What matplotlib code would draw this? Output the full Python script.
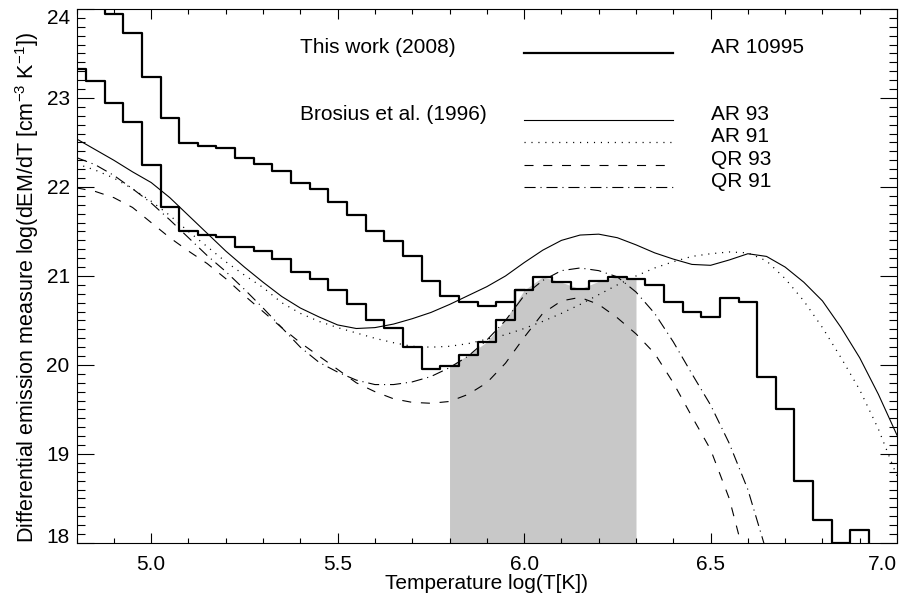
import numpy as np
import matplotlib
matplotlib.use("Agg")
import matplotlib.pyplot as plt
from matplotlib.ticker import MultipleLocator, FormatStrFormatter

plt.rcParams['font.family'] = ['Liberation Sans', 'DejaVu Sans']
plt.rcParams['mathtext.default'] = 'regular'
plt.rcParams['lines.scale_dashes'] = False

# temperature grid, log(T) in 0.05 steps
logT = np.round(np.arange(4.80, 7.001, 0.05), 2)

# This work (2008), AR 10995 -- two DEM histograms
dem_upper = [24.5, 24.3, 23.945, 23.73, 23.235, 22.78, 22.49, 22.46, 22.44, 22.33,
             22.26, 22.18, 22.04, 21.98, 21.83, 21.68, 21.51, 21.39, 21.22, 20.94,
             20.78, 20.71, 20.66, 20.71, 20.84]
dem_lower = [23.33, 23.19, 22.94, 22.73, 22.25, 21.78, 21.51, 21.46, 21.44, 21.33,
             21.28, 21.19, 21.04, 20.97, 20.84, 20.69, 20.51, 20.42, 20.20, 19.95,
             19.99, 20.11, 20.26, 20.51, 20.84, 20.99, 20.93, 20.855, 20.94, 20.99,
             20.97, 20.90, 20.705, 20.59, 20.54, 20.75, 20.705, 19.86, 19.50, 18.70,
             18.26, 18.0, 18.15, 17.5]

# Brosius et al. (1996)
ar93 = [22.54, 22.42, 22.30, 22.17, 22.05, 21.88, 21.68, 21.48, 21.28, 21.10,
        20.93, 20.77, 20.64, 20.54, 20.45, 20.41, 20.42, 20.46, 20.52, 20.59,
        20.68, 20.78, 20.88, 21.00, 21.15, 21.29, 21.40, 21.46, 21.47, 21.43,
        21.35, 21.26, 21.19, 21.13, 21.12, 21.18, 21.25, 21.22, 21.10, 20.93,
        20.72, 20.42, 20.08, 19.67, 19.21]
ar91 = [22.26, 22.19, 22.10, 21.98, 21.84, 21.68, 21.50, 21.33, 21.16, 21.01,
        20.87, 20.70, 20.58, 20.49, 20.42, 20.36, 20.30, 20.25, 20.21, 20.20,
        20.21, 20.24, 20.29, 20.34, 20.41, 20.49, 20.58, 20.68, 20.79, 20.90,
        21.00, 21.09, 21.16, 21.22, 21.25, 21.27, 21.26, 21.17, 20.97, 20.72,
        20.42, 20.08, 19.72, 19.28, 18.75]
qr93 = [21.99, 21.95, 21.88, 21.77, 21.60, 21.43, 21.28, 21.14, 20.97, 20.78,
        20.60, 20.42, 20.25, 20.10, 19.95, 19.80, 19.70, 19.62, 19.58, 19.57,
        19.59, 19.67, 19.80, 20.02, 20.31, 20.58, 20.72, 20.76, 20.68, 20.53,
        20.35, 20.13, 19.80, 19.42, 19.05, 18.50, 17.70]
qr91 = [22.33, 22.25, 22.13, 21.98, 21.82, 21.63, 21.43, 21.23, 21.05, 20.85,
        20.64, 20.42, 20.20, 20.03, 19.92, 19.83, 19.78, 19.78, 19.81, 19.87,
        19.97, 20.10, 20.28, 20.50, 20.78, 20.95, 21.06, 21.09, 21.06, 20.99,
        20.82, 20.58, 20.26, 19.90, 19.55, 19.12, 18.60, 17.90]

shade_range = (5.8, 6.3)

DOT = (0, (0.8, 4.2))
DASH = (0, (6.5, 7.0))
DASHDOT = (0, (8, 3.5, 0.8, 3.5))

fig = plt.figure(figsize=(9.12, 5.99), dpi=100)
ax = fig.add_axes([0.084, 0.0935, 0.8996, 0.8915])

# shaded temperature range
sel = (logT >= shade_range[0] - 1e-6) & (logT <= shade_range[1] + 1e-6)
ax.fill_between(logT[sel], 18, np.array(dem_lower)[sel[:len(dem_lower)]],
                color='#c8c8c8', lw=0, zorder=1)

ax.plot(logT[:len(ar93)], ar93, color='k', lw=0.8, zorder=2)
ax.plot(logT[:len(ar91)], ar91, color='k', lw=0.9, ls=DOT, zorder=2)
ax.plot(logT[:len(qr93)], qr93, color='k', lw=0.8, ls=DASH, zorder=2)
ax.plot(logT[:len(qr91)], qr91, color='k', lw=0.8, ls=DASHDOT, zorder=2)

ax.step(logT[:len(dem_upper)], dem_upper, where='mid', color='k', lw=1.6, zorder=3)
ax.step(logT[:len(dem_lower)], dem_lower, where='mid', color='k', lw=1.6, zorder=3)

# legend drawn inside the plot, IDL style
fs = 15
ax.text(5.4, 23.5, 'This work (2008)', fontsize=fs, va='baseline')
ax.plot([6.0, 6.4], [23.5, 23.5], color='k', lw=1.6)
ax.text(6.5, 23.5, 'AR 10995', fontsize=fs, va='baseline')

ax.text(5.4, 22.75, 'Brosius et al. (1996)', fontsize=fs, va='baseline')
rows = [(22.75, 'AR 93', '-', 0.8), (22.5, 'AR 91', DOT, 0.9),
        (22.25, 'QR 93', DASH, 0.8), (22.0, 'QR 91', DASHDOT, 0.8)]
for yy, lab, ls, lw in rows:
    ax.plot([6.0, 6.4], [yy, yy], color='k', lw=lw, ls=ls)
    ax.text(6.5, yy, lab, fontsize=fs, va='baseline')

ax.set_xlim(4.8, 7.0)
ax.set_ylim(18, 24)
ax.xaxis.set_major_locator(MultipleLocator(0.5))
ax.xaxis.set_minor_locator(MultipleLocator(0.1))
ax.xaxis.set_major_formatter(FormatStrFormatter('%.1f'))
ax.yaxis.set_major_locator(MultipleLocator(1))
ax.yaxis.set_minor_locator(MultipleLocator(0.1))
ax.tick_params(which='both', direction='in', top=True, right=True, labelsize=fs, width=0.8)
ax.tick_params(axis='x', which='major', length=7.5, pad=8.5)
ax.tick_params(axis='x', which='minor', length=3.6)
ax.tick_params(axis='y', which='major', length=12, pad=5)
ax.tick_params(axis='y', which='minor', length=6)
for s in ax.spines.values():
    s.set_linewidth(0.8)

ax.set_xlabel('Temperature log(T[K])', fontsize=fs, labelpad=0)
ax.set_ylabel('Differential emission measure log(dEM/dT [cm$^{-3}$ K$^{-1}$])',
              fontsize=15.5)
ax.yaxis.set_label_coords(-0.0434, 0.478)

# end labels kept inside the frame
fig.canvas.draw()
for t in ax.yaxis.get_major_ticks():
    if abs(t.get_loc() - 18) < 1e-6:
        t.label1.set_va('baseline')
    elif abs(t.get_loc() - 24) < 1e-6:
        t.label1.set_va('top')
for t in ax.xaxis.get_major_ticks():
    if abs(t.get_loc() - 7.0) < 1e-6:
        t.label1.set_ha('right')

fig.savefig('out.png', dpi=100)
